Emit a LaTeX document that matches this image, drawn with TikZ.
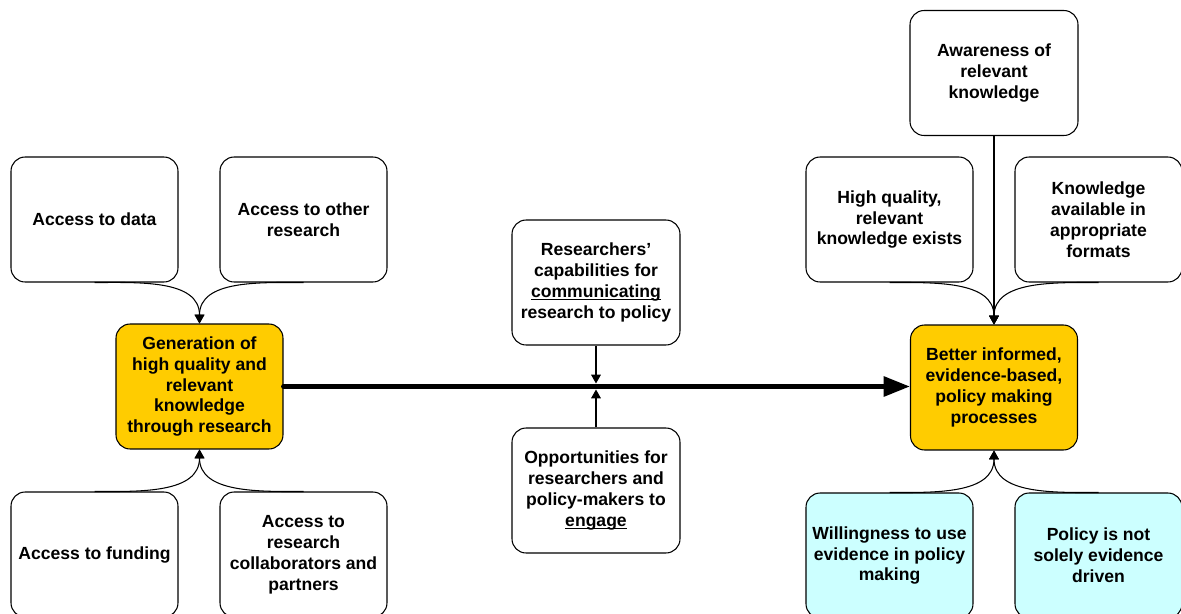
\documentclass[tikz,border=0pt]{standalone}
\usepackage{fontspec}
\setmainfont{Liberation Sans}
\usetikzlibrary{arrows.meta}
\definecolor{boxyellow}{HTML}{FFCC00}
\definecolor{boxcyan}{HTML}{CCFFFF}
\newcommand\myuline[1]{{\setbox0\hbox{#1}\rlap{\rule[-1.6pt]{\wd0}{0.6pt}}\box0}}
\tikzset{
  box/.style={draw=black, line width=0.6pt, rounded corners=8pt, fill=white,
    minimum width=3.34cm, minimum height=2.5cm, align=center, inner sep=2pt,
    font=\fontsize{10}{11.9}\selectfont\bfseries},
  goal/.style={box, fill=boxyellow},
  cond/.style={box, fill=boxcyan},
  conn/.style={line width=0.6pt, -{Triangle[width=5.5pt,length=5pt]}},
  main/.style={line width=2.8pt, line cap=round, -{Triangle[width=11pt,length=15pt]}}
}
\begin{document}
\begin{tikzpicture}[x=0.02cm,y=-0.02cm]
\useasboundingbox (0,0) rectangle (1181,613);
\clip (0,0) rectangle (1181,613);
% left cluster
\node[box] (data) at (94.5,219.5) {Access to data};
\node[box] (other) at (303.5,219.5) {Access to other\\research};
\node[goal] (gen) at (199.5,386.5) {Generation of\\high quality and\\relevant\\knowledge\\through research};
\node[box] (fund) at (94.5,554.5) {Access to funding};
\node[box] (collab) at (303.5,554.5) {Access to\\research\\collaborators and\\partners};
% middle
\node[box, minimum width=3.36cm] (cap) at (596,282.5) {Researchers'\\capabilities for\\\myuline{communicating}\\research to policy};
\node[box, minimum width=3.36cm] (opp) at (596,490.5) {Opportunities for\\researchers and\\policy-makers to\\\myuline{engage}};
% right cluster
\node[box, minimum width=3.36cm] (aware) at (994,73) {Awareness of\\relevant\\knowledge};
\node[box] (hq) at (889.5,219.5) {High quality,\\relevant\\knowledge exists};
\node[box] (avail) at (1098.5,219.5) {Knowledge\\available in\\appropriate\\formats};
\node[goal] (better) at (994,387.5) {Better informed,\\evidence-based,\\policy making\\processes};
\node[cond] (will) at (889.5,555.5) {Willingness to use\\evidence in policy\\making};
\node[cond] (pol) at (1098.5,555.5) {Policy is not\\solely evidence\\driven};
% connectors
\draw[conn] (data.south) to[out=0,in=90] (gen.north);
\draw[conn] (other.south) to[out=180,in=90] (gen.north);
\draw[conn] (fund.north) to[out=0,in=-90] (gen.south);
\draw[conn] (collab.north) to[out=180,in=-90] (gen.south);
\draw[conn] (hq.south) to[out=0,in=90] (better.north);
\draw[conn] (aware.south) -- (better.north);
\draw[conn] (avail.south) to[out=180,in=90] (better.north);
\draw[conn] (will.north) to[out=0,in=-90] (better.south);
\draw[conn] (pol.north) to[out=180,in=-90] (better.south);
\draw[main] (gen.east) -- (gen.east -| better.west);
\coordinate (jt) at (596,383.5);
\coordinate (jb) at (596,389.5);
\draw[conn] (cap.south) -- (jt);
\draw[conn] (opp.north) -- (jb);
\end{tikzpicture}
\end{document}
